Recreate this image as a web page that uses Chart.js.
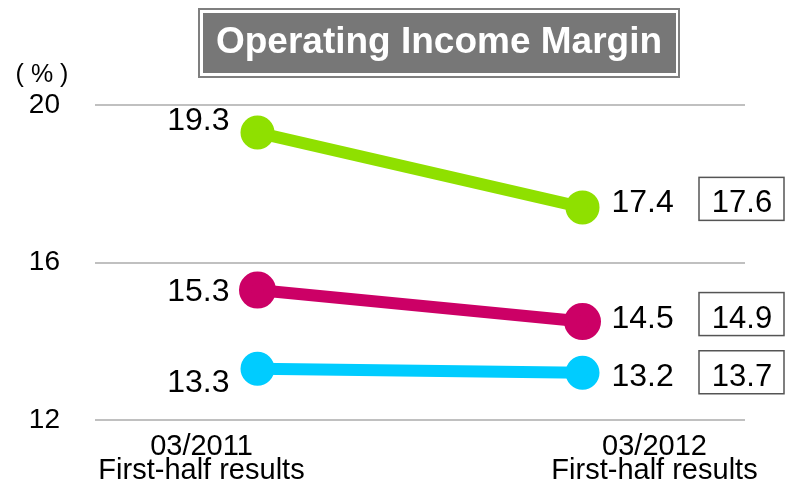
<!DOCTYPE html>
<html>
<head>
<meta charset="utf-8">
<script src="https://cdn.jsdelivr.net/npm/chart.js@4.4.0/dist/chart.umd.min.js"></script>
<style>
  html, body { margin: 0; padding: 0; background: #fff; }
  #wrap { width: 790px; height: 486px; position: relative; }
</style>
</head>
<body>
<div id="wrap"><canvas id="myChart" width="790" height="486"></canvas></div>
<script>
const categories = [['03/2011', 'First-half results'], ['03/2012', 'First-half results']]
const seriesTop = [19.3, 17.4]
const seriesMid = [15.3, 14.5]
const seriesLow = [13.3, 13.2]
const forecast = [17.6, 14.9, 13.7]
const yTicks = [12, 16, 20]

const FONT = '"Liberation Sans", Arial, sans-serif'

// where each value label sits relative to its point (dx, baseline dy)
const labelPos = [
    [[-28, -3], [29, 5]],
    [[-28, 11], [29, 6]],
    [[-28, 23], [29, 13]]
]

const extras = {
    id: 'extras',
    afterDraw(chart) {
        const ctx = chart.ctx
        const x = chart.scales.x
        const y = chart.scales.y
        ctx.save()

        // title box
        ctx.strokeStyle = '#7f7f7f'
        ctx.lineWidth = 2
        ctx.strokeRect(199, 9, 480, 68)
        ctx.fillStyle = '#777777'
        ctx.fillRect(203, 13, 473, 60)
        ctx.fillStyle = '#ffffff'
        ctx.font = 'bold 37px ' + FONT
        ctx.textAlign = 'center'
        ctx.textBaseline = 'alphabetic'
        ctx.fillText('Operating Income Margin', 439, 53)

        // unit
        ctx.fillStyle = '#000'
        ctx.font = '25px ' + FONT
        ctx.fillText('( % )', 42, 82)

        // category labels under the axis
        ctx.font = '29px ' + FONT
        const catDx = [-56, 72]
        categories.forEach((lines, i) => {
            const px = x.getPixelForValue(i) + catDx[i]
            ctx.fillText(lines[0], px, 455)
            ctx.fillText(lines[1], px, 479)
        })

        // value labels
        ctx.font = '32px ' + FONT
        chart.data.datasets.forEach((ds, si) => {
            ds.data.forEach((v, i) => {
                const px = x.getPixelForValue(i)
                const py = y.getPixelForValue(v)
                const pos = labelPos[si][i]
                ctx.textAlign = i == 0 ? 'right' : 'left'
                ctx.fillText(v.toFixed(1), px + pos[0], py + pos[1])
            })
        })

        // forecast boxes
        ctx.font = '31px ' + FONT
        ctx.textAlign = 'center'
        ctx.strokeStyle = '#555'
        ctx.lineWidth = 1.5
        chart.data.datasets.forEach((ds, si) => {
            const py = y.getPixelForValue(ds.data[1]) + labelPos[si][1][1]
            ctx.strokeRect(699, py - 35, 85, 43)
            ctx.fillText(forecast[si].toFixed(1), 742, py)
        })
        ctx.restore()
    }
}

function makeSet(data, color, r) {
    return {
        data: data,
        borderColor: color,
        backgroundColor: color,
        borderWidth: 12,
        pointRadius: r,
        pointHoverRadius: r,
        tension: 0
    }
}

new Chart(document.getElementById('myChart'), {
    type: 'line',
    data: {
        labels: categories.map(c => c.join(' ')),
        datasets: [
            makeSet(seriesTop, '#8fe000', 11),
            makeSet(seriesMid, '#cc0066', 12.5),
            makeSet(seriesLow, '#00ccff', 11)
        ]
    },
    options: {
        responsive: false,
        animation: false,
        clip: false,
        layout: { padding: { top: 105, right: 45, left: 0, bottom: 0 } },
        plugins: {
            legend: { display: false },
            tooltip: { enabled: false }
        },
        scales: {
            x: {
                offset: true,
                grid: { display: false, drawTicks: false },
                border: { display: false },
                ticks: { display: false },
                afterFit(scale) { scale.height = 66 }
            },
            y: {
                min: 12,
                max: 20,
                afterBuildTicks(scale) { scale.ticks = yTicks.map(v => ({ value: v })) },
                grid: { color: '#c0c0c0', lineWidth: 2, drawTicks: false },
                border: { display: false },
                ticks: {
                    padding: 35,
                    color: '#000',
                    font: { family: FONT, size: 28 }
                },
                afterFit(scale) { scale.width = 95 }
            }
        }
    },
    plugins: [extras]
});
</script>
</body>
</html>
